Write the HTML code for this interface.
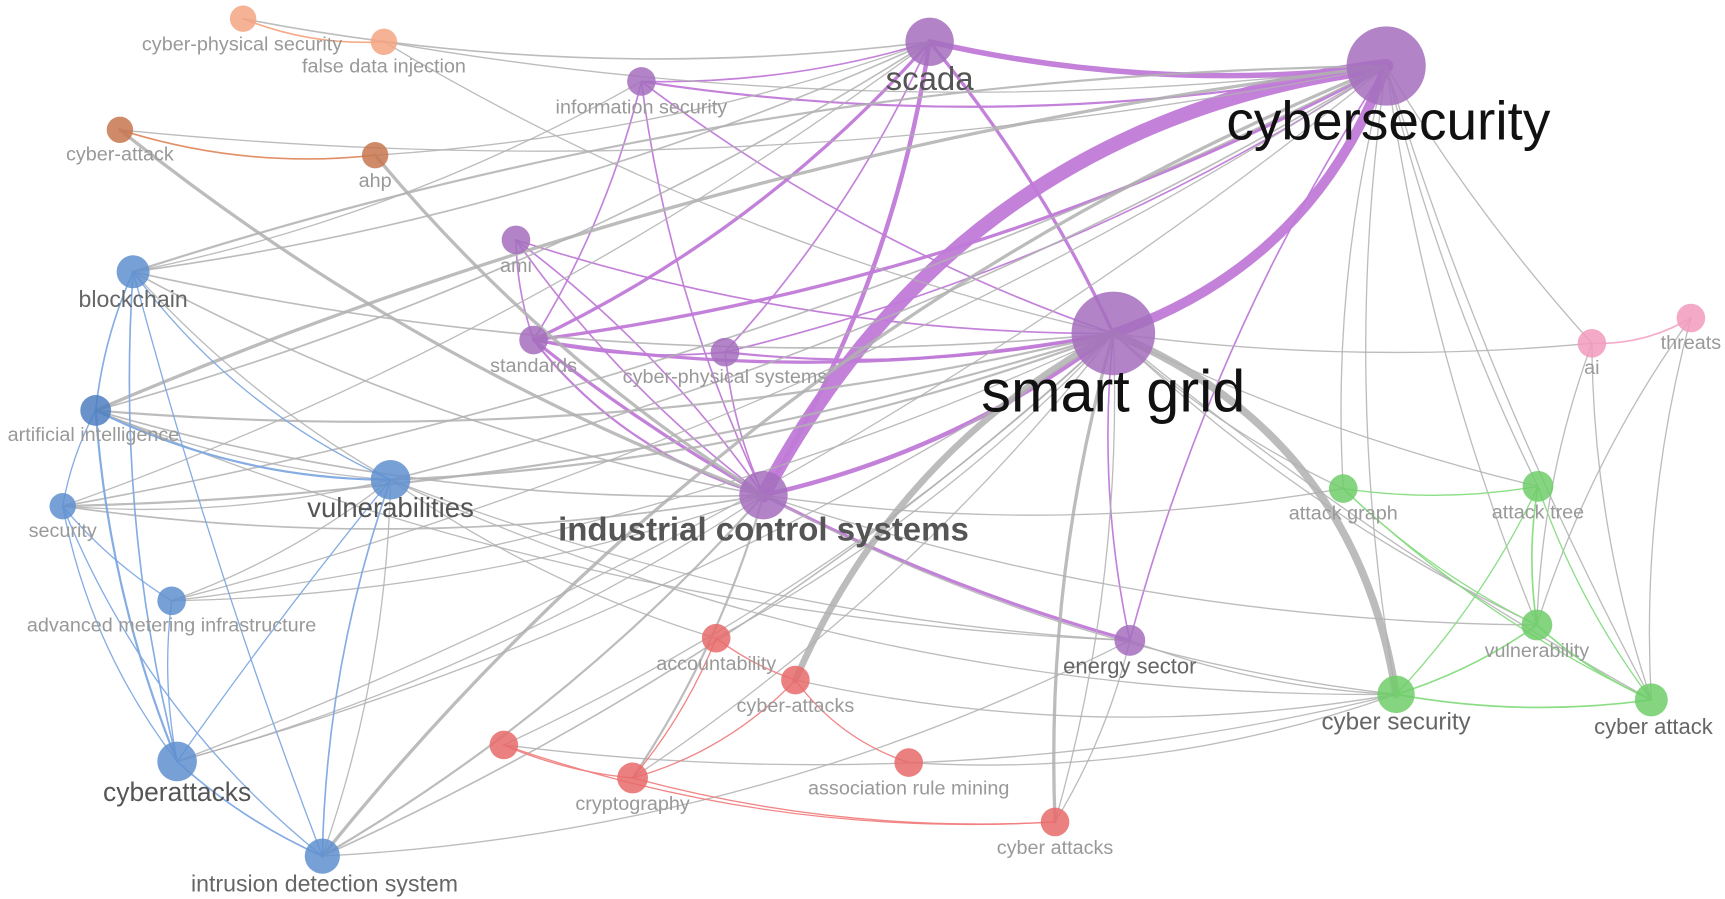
<!DOCTYPE html>
<html><head><meta charset="utf-8"><style>
html,body{margin:0;padding:0;background:#fff;width:1725px;height:899px;overflow:hidden}
svg{display:block}
text{font-family:"Liberation Sans",sans-serif;text-anchor:middle}
</style></head><body>
<svg id="s" width="1725" height="899" viewBox="0 0 1568 817" preserveAspectRatio="none" xmlns="http://www.w3.org/2000/svg">
<g id="e" fill="none" stroke-linecap="round"></g>
<g id="n"></g>
<g id="t"></g>
</svg>
<script>
var N={
cps:[221,17,12,'#f4a582','cyber-physical security',220,46,18,'#999'],
fdi:[349,38,12,'#f4a582','false data injection',349,66,18,'#999'],
ca:[109,118,12,'#c7774f','cyber-attack',109,146,18,'#999'],
ahp:[341,141,12,'#c7774f','ahp',341,170,18,'#999'],
bc:[121,247,15,'#5f8fcf','blockchain',121,279,21,'#666'],
aI:[87,373,14,'#4d7fbf','artificial intelligence',85,401,18,'#999'],
sec:[57,460,12,'#5f8fcf','security',57,488,18,'#999'],
vul:[355,436,18,'#5f8fcf','vulnerabilities',355,470,25,'#555'],
ami2:[156,546,13,'#5f8fcf','advanced metering infrastructure',156,574,18,'#999'],
cyb:[161,692,18,'#5f8fcf','cyberattacks',161,728,24,'#555'],
ids:[293,778,16,'#5f8fcf','intrusion detection system',295,810,21,'#666'],
scada:[845,38,22,'#a46fbd','scada',845,82,30,'#555'],
is:[583,74,13,'#a46fbd','information security',583,103,18,'#999'],
cs:[1260,60,36,'#a46fbd','cybersecurity',1262,127,50,'#111'],
ami:[469,218,13,'#a46fbd','ami',469,247,18,'#999'],
std:[485,309,13,'#a46fbd','standards',485,338,18,'#999'],
cpsy:[659,320,13,'#a46fbd','cyber-physical systems',659,348,18,'#999'],
sg:[1012,303,38,'#a46fbd','smart grid',1012,374,54,'#111'],
ics:[694,450,22,'#a46fbd','industrial control systems',694,491,30,'#555'],
es:[1027,582,14,'#a46fbd','energy sector',1027,612,20,'#666'],
ai:[1447,312,13,'#f29bbd','ai',1447,340,18,'#999'],
thr:[1537,289,13,'#f29bbd','threats',1537,317,18,'#999'],
ag:[1221,444,13,'#6fcc6a','attack graph',1221,472,18,'#999'],
at:[1398,442,14,'#6fcc6a','attack tree',1398,471,18,'#999'],
vy:[1397,568,14,'#6fcc6a','vulnerability',1397,597,18,'#999'],
csec:[1269,631,17,'#6fcc6a','cyber security',1269,663,22,'#666'],
cat:[1501,636,15,'#6fcc6a','cyber attack',1503,667,20,'#666'],
acc:[651,580,13,'#e86a6a','accountability',651,609,18,'#999'],
cas:[723,618,13,'#e86a6a','cyber-attacks',723,647,18,'#999'],
r1:[458,677,13,'#e86a6a','',0,0,0,''],
cry:[575,707,14,'#e86a6a','cryptography',575,736,18,'#999'],
arm:[826,693,13,'#e86a6a','association rule mining',826,722,18,'#999'],
cats:[959,747,13,'#e86a6a','cyber attacks',959,776,18,'#999']
};
var G='#b0b0b0',P='#c07ad8',B='#7ea8e2',GR='#86dc80',R='#f08080';
var E=[
['cps','fdi',1.5,'#f4a582',4],['ca','ahp',1.5,'#e08a60',6],['ai','thr',1.5,'#f4a6c6',6],
['cs','sg',9,P,-110],['ics','cs',13,P,-233],['scada','cs',5,P,3],['ics','scada',4,P,10],['ics','sg',4,P,10],
['std','sg',3,P,4],['std','ics',3,P,-10],['std','scada',3,P,10],['std','cs',3,P,10],['ics','es',3,P,-10],
['sg','scada',3,P,-5],['is','cs',2,P,5],['is','ics',1.5,P,0],['is','sg',1.5,P,0],['ami','sg',1.5,P,0],['ami','ics',1.5,P,0],
['ami','std',1.5,P,0],['cpsy','cs',1.5,P,5],['cpsy','scada',1.5,P,0],['cpsy','sg',2,P,0],['sg','es',1.5,P,0],['cs','es',1.5,P,0],
['std','is',1.5,P,0],['std','cpsy',1.5,P,0],['is','scada',1.5,P,0],['cpsy','ics',1.5,P,0],['ics','ami',1.5,P,0],['std','ics',2,P,20],
['sg','csec',7,G,-150],['sg','cas',6,G,40],['sg','cats',3,G,0],['cs','aI',3,G,-10],['cs','bc',2,G,-5],['cs','ids',3,G,60],
['ahp','ics',3,G,0],['ca','ics',3,G,0],['bc','sg',1.5,G,0],['aI','sg',2,G,0],['sec','sg',2,G,-10],['vul','sg',2,G,0],
['sec','cs',1.5,G,-10],['vul','cs',1.5,G,-5],['sec','ics',1.5,G,0],['bc','ics',1.5,G,0],['aI','ics',1.5,G,0],
['cs','ag',1.2,G,0],['cs','at',1.2,G,-10],['cs','vy',1.2,G,-10],['cs','cat',1.2,G,-20],['cs','csec',1.2,G,0],
['sg','ag',1.2,G,0],['sg','at',1.2,G,-10],['sg','vy',1.2,G,0],['sg','cat',1.2,G,-20],['sg','ai',1.2,G,-10],
['ics','csec',1.2,G,10],['ics','ag',1.2,G,0],['ics','vy',1.2,G,0],['vul','csec',1.2,G,30],['vul','es',1.2,G,0],
['ai','vy',1.2,G,0],['thr','cat',1.2,G,0],['thr','vy',1.2,G,0],['ai','cat',1.2,G,0],['cs','ai',1.2,G,-10],
['fdi','sg',1.2,G,0],['cps','scada',1.5,G,0],['fdi','cs',1.2,G,-5],['ahp','scada',1.2,G,-5],['ca','cs',1.2,G,-5],
['ids','ics',2,G,0],['ids','sg',1.5,G,0],['cyb','sg',1.2,G,0],['cyb','cs',1.2,G,0],['ami2','sg',1.2,G,0],['ami2','cs',1.2,G,0],
['cry','ics',2,G,0],['cry','sg',1.2,G,0],['cats','sg',1.2,G,0],['cats','es',1.2,G,0],['r1','csec',1.2,G,10],['r1','sg',1.2,G,0],
['es','csec',1.2,G,0],['cas','csec',1.2,G,10],['arm','csec',1.2,G,10],['acc','sg',1.2,G,0],['ids','vul',1.2,G,0],['sec','vul',1.2,G,0],
['aI','vul',1.2,G,0],['bc','vul',1.2,G,0],['ids','es',1.2,G,20],['vul','acc',1.2,G,0],['aI','es',1.2,G,10],['bc','scada',1.5,G,-5],
['bc','is',1.2,G,0],['sec','scada',1.2,G,-5],['aI','scada',1.5,G,-5],['ami2','ics',1.2,G,0],['cyb','ics',1.2,G,0],['ami2','vul',1.2,G,0],
['ag','at',1.2,GR,0],['ag','vy',1.2,GR,0],['ag','cat',1.2,GR,0],['at','vy',1.5,GR,0],['at','cat',1.2,GR,0],['vy','cat',1.5,GR,0],['csec','cat',1.5,GR,0],['csec','vy',1.5,GR,0],['csec','at',1.2,GR,0],
['bc','aI',1.5,B,0],['bc','cyb',1.5,B,0],['bc','vul',1.2,B,15],['aI','vul',2,B,10],['aI','cyb',2,B,0],['aI','sec',1.2,B,0],['sec','cyb',1.2,B,10],['sec','ids',1.2,B,20],
['ami2','cyb',1.2,B,0],['cyb','ids',1.5,B,0],['vul','cyb',1.2,B,-20],['vul','ids',1.5,B,0],['bc','ids',1.2,B,-30],['sec','ami2',1.2,B,0],
['cry','cas',1.2,R,10],['cry','acc',1.2,R,0],['cas','arm',1.2,R,10],['r1','cats',1.2,R,10],['cry','cats',1.2,R,0],['acc','cas',1.2,R,0],['r1','cry',1.2,R,0]
];
var ns='http://www.w3.org/2000/svg',eg=document.getElementById('e'),ng=document.getElementById('n'),tg=document.getElementById('t');
E.forEach(function(d){var a=N[d[0]],b=N[d[1]];var mx=(a[0]+b[0])/2,my=(a[1]+b[1])/2,dx=b[0]-a[0],dy=b[1]-a[1],L=Math.hypot(dx,dy)||1;
var c=d[4]+L*0.08;var cx=mx-dy/L*c,cy=my+dx/L*c;var p=document.createElementNS(ns,'path');
p.setAttribute('d','M'+a[0]+' '+a[1]+' Q'+cx+' '+cy+' '+b[0]+' '+b[1]);p.setAttribute('stroke',d[3]);p.setAttribute('stroke-width',d[2]);p.setAttribute('opacity',d[3]==G?0.85:0.95);eg.appendChild(p);});
for(var k in N){var v=N[k];var c=document.createElementNS(ns,'circle');c.setAttribute('cx',v[0]);c.setAttribute('cy',v[1]);c.setAttribute('r',v[2]);c.setAttribute('fill',v[3]);c.setAttribute('opacity',0.85);ng.appendChild(c);
if(v[4]){var t=document.createElementNS(ns,'text');t.setAttribute('x',v[5]);t.setAttribute('y',v[6]);t.setAttribute('font-size',v[7]);t.setAttribute('fill',v[8]);if(k=='ics')t.setAttribute('font-weight','bold');t.textContent=v[4];tg.appendChild(t);}}
</script>
</body></html>
